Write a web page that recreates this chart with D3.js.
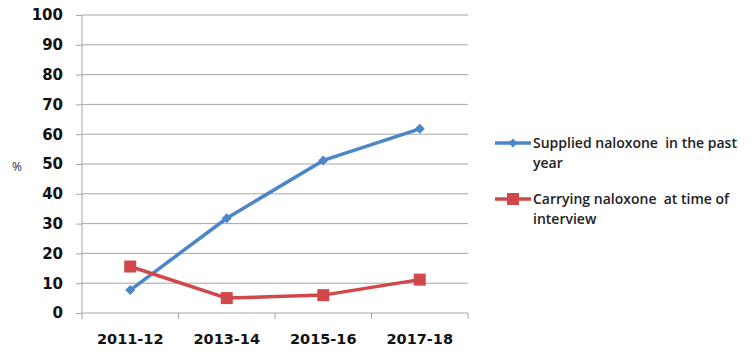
<!DOCTYPE html>
<html><head><meta charset="utf-8">
<script src="https://cdn.jsdelivr.net/npm/d3@7"></script>
<style>body{margin:0;background:#fff;} svg{display:block;}</style>
</head><body>
<svg id="c" width="754" height="357"></svg>
<script>
const categories = ["2011-12", "2013-14", "2015-16", "2017-18"];
const supplied = [7.7, 31.8, 51.2, 61.8];
const carrying = [15.6, 5.0, 6.0, 11.2];
const yTicks = [0, 10, 20, 30, 40, 50, 60, 70, 80, 90, 100];
const seriesNames = ["Supplied naloxone  in the past|year", "Carrying naloxone  at time of|interview"];

const svg = d3.select("#c");
const mLeft = 82, mRight = 468, mTop = 15, mBottom = 313;
const x = d3.scaleBand().domain(categories).range([mLeft, mRight]);
const y = d3.scaleLinear().domain([0, 100]).range([mBottom, mTop]);
const font = "'Open Sans', 'Liberation Sans', sans-serif";
const tickFont = "'DejaVu Sans', Verdana, sans-serif";

// gridlines
svg.append("g").selectAll("line").data(yTicks.filter(d => d > 0)).join("line")
  .attr("x1", mLeft).attr("x2", mRight)
  .attr("y1", d => y(d)).attr("y2", d => y(d))
  .attr("stroke", "#a6a6a6").attr("stroke-width", 1);

// y axis
const ya = svg.append("g").attr("transform", `translate(${mLeft},0)`)
  .call(d3.axisLeft(y).tickValues(yTicks).tickSize(6).tickPadding(13));
ya.select(".domain").attr("stroke", "#a6a6a6").attr("d", `M0,${mTop}V${mBottom}`);
ya.selectAll(".tick line").attr("stroke", "#a6a6a6");
ya.selectAll("text").attr("font-family", tickFont).attr("font-weight", "bold")
  .attr("font-size", 15).attr("fill", "#111");

// x axis
const xa = svg.append("g").attr("transform", `translate(0,${mBottom})`)
  .call(d3.axisBottom(x).tickSize(0).tickPadding(21));
xa.select(".domain").attr("stroke", "#a6a6a6").attr("d", `M${mLeft},0H${mRight}`);
xa.selectAll("text").attr("font-family", tickFont).attr("font-weight", "bold")
  .attr("font-size", 14.5).attr("fill", "#111");
svg.append("g").selectAll("line").data(categories.concat(["end"])).join("line")
  .attr("x1", (d, i) => mLeft + i * x.step()).attr("x2", (d, i) => mLeft + i * x.step())
  .attr("y1", mBottom).attr("y2", mBottom + 6)
  .attr("stroke", "#a6a6a6");

// % label
svg.append("text").attr("x", 17).attr("y", 171).attr("text-anchor", "middle")
  .attr("font-family", font).attr("font-size", 12).attr("fill", "#1f2d4d").text("%");

const cx = d => x(d) + x.bandwidth() / 2;
const line = d3.line().x((d, i) => cx(categories[i])).y(d => y(d));

const blue = "#4a86c8", red = "#d0484a";
svg.append("path").datum(supplied).attr("d", line).attr("fill", "none")
  .attr("stroke", blue).attr("stroke-width", 3.5).attr("stroke-linejoin", "round");
svg.append("path").datum(carrying).attr("d", line).attr("fill", "none")
  .attr("stroke", red).attr("stroke-width", 3.5).attr("stroke-linejoin", "round");

const diamond = d3.symbol().type(d3.symbolSquare).size(50);
svg.append("g").selectAll("path").data(supplied).join("path")
  .attr("transform", (d, i) => `translate(${cx(categories[i])},${y(d)}) rotate(45)`)
  .attr("d", diamond).attr("fill", blue);
svg.append("g").selectAll("rect").data(carrying).join("rect")
  .attr("x", (d, i) => cx(categories[i]) - 6).attr("y", d => y(d) - 6)
  .attr("width", 12).attr("height", 12).attr("fill", red);

// legend
const lg = svg.append("g");
const legY = [143, 199];
[blue, red].forEach((col, i) => {
  lg.append("line").attr("x1", 495).attr("x2", 531).attr("y1", legY[i]).attr("y2", legY[i])
    .attr("stroke", col).attr("stroke-width", 3.5);
  if (i === 0) lg.append("path").attr("transform", `translate(513,${legY[i]}) rotate(45)`)
    .attr("d", d3.symbol().type(d3.symbolSquare).size(40)).attr("fill", col);
  else lg.append("rect").attr("x", 507).attr("y", legY[i] - 6).attr("width", 12).attr("height", 12).attr("fill", col);
  const t = lg.append("text").attr("x", 533).attr("y", legY[i] + 5)
    .attr("font-family", font).attr("font-size", 14).attr("font-weight", 600).attr("fill", "#222");
  seriesNames[i].split("|").forEach((s, j) => {
    t.append("tspan").attr("x", 533).attr("dy", j === 0 ? 0 : 19.5).attr("xml:space", "preserve").text(s);
  });
});
</script>
</body></html>
